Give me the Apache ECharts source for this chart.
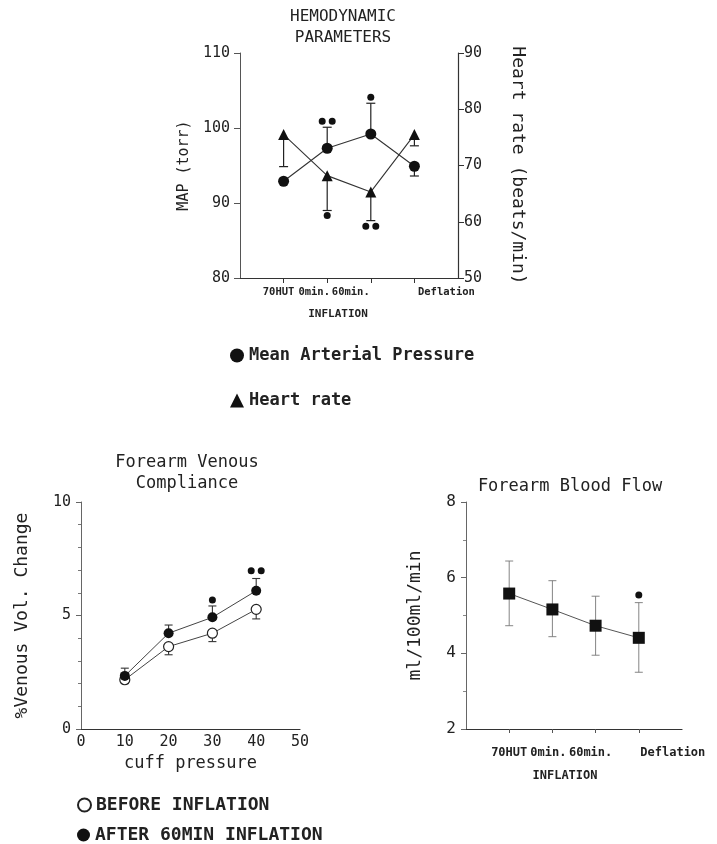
<!DOCTYPE html>
<html>
<head>
<meta charset="utf-8">
<title>Hemodynamics and forearm circulation</title>
<script src="https://cdn.jsdelivr.net/npm/echarts@6/dist/echarts.min.js"></script>
<style>
  html, body { margin: 0; padding: 0; background: #fff; }
  #chart { width: 717px; height: 844px; }
</style>
</head>
<body>
<div id="chart"></div>
<script>
// ---- Hemodynamic parameters (top panel) ----
const hemoCats = ['70HUT', '0min.', '60min.', 'Deflation'];
const mapMean = [92.9, 97.3, 99.2, 94.9];          // torr
const mapErrEnd = [null, 100.1, 103.3, 93.6];      // end of one-sided error bar
const hrMean = [75.5, 68.2, 65.3, 75.5];           // beats/min
const hrErrEnd = [69.8, 62.0, 60.2, 73.5];
const mapSigOne = [['60min.', 104.1]];
const mapSigTwo = [['0min.', 100.9]];
const hrSigOne = [['0min.', 61.1]];
const hrSigTwo = [['60min.', 59.2]];

// ---- Forearm venous compliance (bottom left) ----
const cuffPressure = [10, 20, 30, 40];
const beforeMean = [2.17, 3.63, 4.22, 5.27];
const beforeErrEnd = [2.0, 3.27, 3.85, 4.85];
const afterMean = [2.34, 4.22, 4.92, 6.09];
const afterErrEnd = [2.68, 4.58, 5.42, 6.63];
const afterSigOne = [[30, 5.68]];
const afterSigTwo = [[40, 6.97]];

// ---- Forearm blood flow (bottom right) ----
const flowCats = ['70HUT', '0min.', '60min.', 'Deflation'];
const flowMean = [5.58, 5.16, 4.73, 4.41];
const flowLow = [4.73, 4.44, 3.95, 3.50];
const flowHigh = [6.44, 5.92, 5.51, 5.34];
const flowSigOne = [['Deflation', 5.54]];

// ---- styling ----
const MONO = "'DejaVu Sans Mono', 'Liberation Mono', monospace";
const INK = '#222';
const TWO_DOTS = 'path://M0 3.5a3.5 3.5 0 1 0 7 0a3.5 3.5 0 1 0 -7 0zM10 3.5a3.5 3.5 0 1 0 7 0a3.5 3.5 0 1 0 -7 0z';

// horizontal nudges for the category labels (rich-text padding)
const hemoLabelPad = { '70HUT': [0, 10, 0, 0], '0min.': [0, 26, 0, 0], '60min.': [0, 40, 0, 0], 'Deflation': [0, 0, 0, 64] };
const flowLabelPad = { '70HUT': [0, 0, 0, 0], '0min.': [0, 8, 0, 0], '60min.': [0, 10, 0, 0], 'Deflation': [0, 0, 0, 68] };

function padded(cats) { return [''].concat(cats, ['']); }

function catLabel(padMap, size) {
  const rich = {};
  const keys = Object.keys(padMap);
  keys.forEach(function (k, i) {
    rich['c' + i] = { padding: padMap[k], fontFamily: MONO, fontSize: size, fontWeight: 'bold', color: INK };
  });
  return {
    interval: 0,
    formatter: function (v) {
      const i = keys.indexOf(v);
      return i < 0 ? '' : '{c' + i + '|' + v + '}';
    },
    rich: rich
  };
}

function pairs(xs, ys) {
  return xs.map(function (x, i) { return [x, ys[i]]; }).filter(function (d) { return d[1] != null; });
}
function triples(xs, a, b) {
  return xs.map(function (x, i) { return [x, a[i], b[i]]; }).filter(function (d) { return d[1] != null && d[2] != null; });
}

// error bar: stem from value(1) to value(2), cap at value(2) (and at value(1) if both)
function errorBars(color, width, capHalf, bothCaps) {
  return function (params, api) {
    const x = api.value(0);
    const a = api.coord([x, api.value(1)]);
    const b = api.coord([x, api.value(2)]);
    const st = { stroke: color, lineWidth: width };
    const kids = [
      { type: 'line', shape: { x1: a[0], y1: a[1], x2: b[0], y2: b[1] }, style: st },
      { type: 'line', shape: { x1: b[0] - capHalf, y1: b[1], x2: b[0] + capHalf, y2: b[1] }, style: st }
    ];
    if (bothCaps) {
      kids.push({ type: 'line', shape: { x1: a[0] - capHalf, y1: a[1], x2: a[0] + capHalf, y2: a[1] }, style: st });
    }
    return { type: 'group', children: kids };
  };
}

function axisLine(color, w) { return { show: true, lineStyle: { color: color, width: w } }; }
function numLabel(size, margin) {
  return { fontFamily: MONO, fontSize: size, color: INK, margin: margin };
}
function nameStyle(size) {
  return { fontFamily: MONO, fontSize: size, color: INK };
}
function dots(xi, yi, sym, size, data) {
  return { type: 'scatter', xAxisIndex: xi, yAxisIndex: yi, z: 4, symbol: sym, symbolSize: size,
    itemStyle: { color: '#111', opacity: 1 }, data: data };
}
const legendText = { fontFamily: MONO, fontWeight: 'bold', color: INK };

const chart = echarts.init(document.getElementById('chart'), null, { renderer: 'canvas' });

const option = {
  backgroundColor: '#fff',
  animation: false,
  title: [
    { text: 'HEMODYNAMIC\nPARAMETERS', left: 343, top: 7, padding: 0, textAlign: 'center',
      textStyle: { fontFamily: MONO, fontSize: 16, fontWeight: 'normal', color: INK, lineHeight: 20.5 } },
    { text: 'Forearm Venous\nCompliance', left: 187, top: 452, padding: 0, textAlign: 'center',
      textStyle: { fontFamily: MONO, fontSize: 17, fontWeight: 'normal', color: INK, lineHeight: 21 } },
    { text: 'Forearm Blood Flow', left: 570, top: 478, padding: 0, textAlign: 'center',
      textStyle: { fontFamily: MONO, fontSize: 17, fontWeight: 'normal', color: INK, lineHeight: 18 } }
  ],
  legend: [
    { orient: 'vertical', left: 230, top: 347, padding: 0, itemWidth: 14, itemHeight: 14, itemGap: 28,
      selectedMode: false,
      data: [{ name: 'Mean Arterial Pressure', icon: 'circle' }, { name: 'Heart rate', icon: 'triangle' }],
      textStyle: Object.assign({ fontSize: 17, lineHeight: 17 }, legendText) },
    { orient: 'vertical', left: 77, top: 796, padding: 0, itemWidth: 13, itemHeight: 13,
      selectedMode: false,
      data: [{ name: 'BEFORE INFLATION', icon: 'circle' }],
      textStyle: Object.assign({ fontSize: 18, lineHeight: 18 }, legendText) },
    { orient: 'vertical', left: 77, top: 826, padding: 0, itemWidth: 13, itemHeight: 13,
      selectedMode: false,
      data: [{ name: 'AFTER 60MIN INFLATION', icon: 'circle' }],
      textStyle: Object.assign({ fontSize: 18, lineHeight: 18 }, legendText) }
  ],
  grid: [
    { left: 240, top: 53, width: 218, height: 225 },
    { left: 81, top: 502, width: 219, height: 227 },
    { left: 466, top: 502, width: 216, height: 227 }
  ],
  xAxis: [
    { gridIndex: 0, type: 'category', data: padded(hemoCats), boundaryGap: false,
      axisLine: axisLine('#333', 1.2),
      axisTick: { show: true, length: 5, lineStyle: { color: '#333' },
        interval: function (i) { return i > 0 && i <= hemoCats.length; } },
      axisLabel: Object.assign({ margin: 9 }, catLabel(hemoLabelPad, 10.5)),
      splitLine: { show: false },
      name: 'INFLATION', nameLocation: 'middle', nameGap: 31,
      nameTextStyle: { fontFamily: MONO, fontSize: 11, fontWeight: 'bold', color: INK, padding: [0, 22, 0, 0] } },
    { gridIndex: 1, type: 'value', min: 0, max: 50, interval: 10,
      axisLine: axisLine('#333', 1.2), axisTick: { show: false },
      axisLabel: numLabel(15, 6), splitLine: { show: false },
      name: 'cuff pressure', nameLocation: 'middle', nameGap: 26, nameTextStyle: nameStyle(17) },
    { gridIndex: 2, type: 'category', data: padded(flowCats), boundaryGap: false,
      axisLine: axisLine('#333', 1.2),
      axisTick: { show: true, length: 4, lineStyle: { color: '#555' },
        interval: function (i) { return i > 0 && i <= flowCats.length; } },
      axisLabel: Object.assign({ margin: 18 }, catLabel(flowLabelPad, 12)),
      splitLine: { show: false },
      name: 'INFLATION', nameLocation: 'middle', nameGap: 41,
      nameTextStyle: { fontFamily: MONO, fontSize: 12, fontWeight: 'bold', color: INK, padding: [0, 18, 0, 0] } }
  ],
  yAxis: [
    { gridIndex: 0, type: 'value', min: 80, max: 110, interval: 10, position: 'left',
      axisLine: axisLine('#555', 1), axisTick: { show: true, length: 6, lineStyle: { color: '#555' } },
      axisLabel: numLabel(15, 10), splitLine: { show: false },
      name: 'MAP (torr)', nameLocation: 'middle', nameGap: 48, nameRotate: 90, nameTextStyle: nameStyle(15) },
    { gridIndex: 0, type: 'value', min: 50, max: 90, interval: 10, position: 'right',
      axisLine: axisLine('#333', 1.2), axisTick: { show: true, length: 6, lineStyle: { color: '#333' } },
      axisLabel: numLabel(15, 6), splitLine: { show: false },
      name: 'Heart rate (beats/min)', nameLocation: 'middle', nameGap: 51, nameRotate: -90, nameTextStyle: nameStyle(18) },
    { gridIndex: 1, type: 'value', min: 0, max: 10, interval: 5,
      axisLine: axisLine('#666', 1), axisTick: { show: true, length: 5, lineStyle: { color: '#666' } },
      minorTick: { show: true, splitNumber: 5, length: 3, lineStyle: { color: '#777' } },
      axisLabel: numLabel(15, 10), splitLine: { show: false },
      name: '%Venous Vol. Change', nameLocation: 'middle', nameGap: 50, nameRotate: 90, nameTextStyle: nameStyle(18) },
    { gridIndex: 2, type: 'value', min: 2, max: 8, interval: 2,
      axisLine: axisLine('#666', 1), axisTick: { show: true, length: 5, lineStyle: { color: '#666' } },
      minorTick: { show: true, splitNumber: 2, length: 3, lineStyle: { color: '#888' } },
      axisLabel: numLabel(16, 10), splitLine: { show: false },
      name: 'ml/100ml/min', nameLocation: 'middle', nameGap: 42, nameRotate: 90, nameTextStyle: nameStyle(18) }
  ],
  series: [
    // top panel
    { name: 'MAP error', type: 'custom', xAxisIndex: 0, yAxisIndex: 0, z: 2,
      renderItem: errorBars('#222', 1.2, 4.5, false), encode: { x: 0, y: [1, 2] },
      data: triples(hemoCats, mapMean, mapErrEnd) },
    { name: 'HR error', type: 'custom', xAxisIndex: 0, yAxisIndex: 1, z: 2,
      renderItem: errorBars('#222', 1.2, 4.5, false), encode: { x: 0, y: [1, 2] },
      data: triples(hemoCats, hrMean, hrErrEnd) },
    { name: 'Mean Arterial Pressure', type: 'line', xAxisIndex: 0, yAxisIndex: 0, z: 3,
      symbol: 'circle', symbolSize: 11, showAllSymbol: true,
      lineStyle: { color: '#333', width: 1.1 }, itemStyle: { color: '#111' },
      data: pairs(hemoCats, mapMean) },
    { name: 'Heart rate', type: 'line', xAxisIndex: 0, yAxisIndex: 1, z: 3,
      symbol: 'triangle', symbolSize: 11, showAllSymbol: true,
      lineStyle: { color: '#333', width: 1.1 }, itemStyle: { color: '#111' },
      data: pairs(hemoCats, hrMean) },
    dots(0, 0, 'circle', 7, mapSigOne),
    dots(0, 0, TWO_DOTS, [17, 7], mapSigTwo),
    dots(0, 1, 'circle', 7, hrSigOne),
    dots(0, 1, TWO_DOTS, [17, 7], hrSigTwo),

    // venous compliance
    { name: 'before error', type: 'custom', xAxisIndex: 1, yAxisIndex: 2, z: 2,
      renderItem: errorBars('#333', 1.1, 4, false), encode: { x: 0, y: [1, 2] },
      data: triples(cuffPressure, beforeMean, beforeErrEnd) },
    { name: 'after error', type: 'custom', xAxisIndex: 1, yAxisIndex: 2, z: 2,
      renderItem: errorBars('#333', 1.1, 4, false), encode: { x: 0, y: [1, 2] },
      data: triples(cuffPressure, afterMean, afterErrEnd) },
    { name: 'BEFORE INFLATION', type: 'line', xAxisIndex: 1, yAxisIndex: 2, z: 3,
      symbol: 'circle', symbolSize: 10,
      lineStyle: { color: '#444', width: 1 },
      itemStyle: { color: '#fff', borderColor: '#222', borderWidth: 1.2 },
      data: pairs(cuffPressure, beforeMean) },
    { name: 'AFTER 60MIN INFLATION', type: 'line', xAxisIndex: 1, yAxisIndex: 2, z: 4,
      symbol: 'circle', symbolSize: 10,
      lineStyle: { color: '#444', width: 1 },
      itemStyle: { color: '#111' },
      data: pairs(cuffPressure, afterMean) },
    dots(1, 2, 'circle', 7, afterSigOne),
    dots(1, 2, TWO_DOTS, [17, 7], afterSigTwo),

    // forearm blood flow
    { name: 'flow error', type: 'custom', xAxisIndex: 2, yAxisIndex: 3, z: 2,
      renderItem: errorBars('#777', 0.9, 4, true), encode: { x: 0, y: [1, 2] },
      data: triples(flowCats, flowLow, flowHigh) },
    { name: 'Forearm Blood Flow', type: 'line', xAxisIndex: 2, yAxisIndex: 3, z: 3,
      symbol: 'rect', symbolSize: 12,
      lineStyle: { color: '#555', width: 1 }, itemStyle: { color: '#111' },
      data: pairs(flowCats, flowMean) },
    dots(2, 3, 'circle', 7, flowSigOne)
  ]
};

chart.setOption(option);
</script>
</body>
</html>
